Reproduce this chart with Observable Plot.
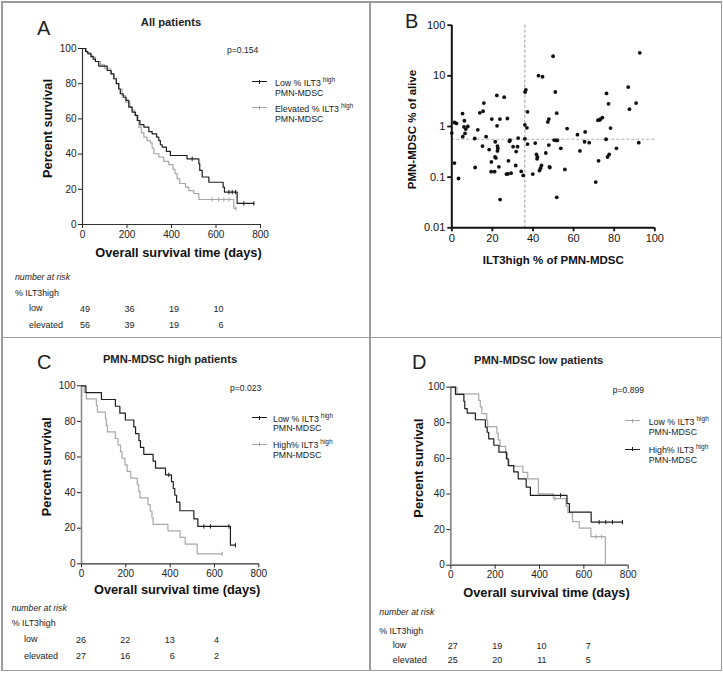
<!DOCTYPE html>
<html><head><meta charset="utf-8">
<script src="https://cdn.jsdelivr.net/npm/d3@7"></script>
<script src="https://cdn.jsdelivr.net/npm/@observablehq/plot@0.6"></script>
<style>
body{margin:0;background:#fff;}
#root{position:relative;width:723px;height:673px;font-family:"Liberation Sans",Arial,Helvetica,sans-serif;color:#222;overflow:hidden;background:#fff;}
.abs{position:absolute;white-space:nowrap;line-height:1;transform:translateY(-50%);}
.sup{font-size:6.5px;position:relative;top:-4px;margin-left:2px;}
.line{position:absolute;background:#9c9c9c;}
</style></head><body><div id="root"></div>
<script>
// ---------- data ----------
const kmTicksX = [0, 200, 400, 600, 800];
const kmTicksY = [0, 20, 40, 60, 80, 100];
const riskTimes = [0, 200, 400, 600];

// Panel A: all patients
const aLowT = [0,14,24,39,48,58,73,111,129,141,152,163,170,183,196,208,223,238,248,258,276,298,313,333,343,350,358,377,395,470,523,527,538,568,632,638,695,770];
const aLowS = [100,98.3,97,95.5,94,92.6,90,87.5,85.6,82.8,80,77,74.3,72.3,70.5,66.7,63.8,62,59.1,56.8,55.3,52.8,51.5,49.6,47.7,45.3,44,41.5,39.2,37.3,34.5,30.7,27,24,21.2,18.4,12,12];
const aLowCens = [493,658,673,688,725,770];
const aElevT = [0,18,36,58,81,100,126,141,152,163,178,193,213,223,234,243,253,264,276,290,305,313,321,343,365,388,407,416,425,437,463,478,500,523,680,690];
const aElevS = [100,97.7,95.1,92.6,90.7,88.5,85.6,82.8,80,77,73.3,69.5,66.7,64.8,62,59.1,55.3,52.1,49.6,47.7,46.4,43.4,40.2,38.3,35.9,34,31.3,28.9,26.1,23.3,21.2,19.3,17.6,14.2,9.2,9.2];
const aElevCens = [583,612,635,658,690];
const aRiskLow = [49, 36, 19, 10];
const aRiskElev = [56, 39, 19, 6];

// Panel B: scatter
const bIlt3 = [0,1.3,1.3,2.3,3.3,5.3,5.4,6.0,6.2,6.5,6.9,7.9,11.3,11.5,12.8,13.8,15.1,15.4,15.8,16.9,18.4,19.5,19.4,19.7,21.3,21.1,21.4,21.7,22.2,22.3,22.5,22.7,22.5,23.2,23.7,23.8,25.8,26.9,27.6,27.4,27.9,28.4,28.7,29.2,30.2,31.7,31.5,32.4,32.7,34.2,35.2,36.0,36.0,36.1,36.5,37.0,37.3,37.3,39.9,41.1,41.7,42.0,42.2,42.7,43.2,43.7,44.2,44.7,46.3,47.3,47.8,47.8,48.1,48.3,49.9,50.4,51.0,51.4,51.7,51.7,52.0,53.7,55.7,56.8,61.9,63.1,65.4,65.7,67.7,70.9,72.0,72.3,72.9,73.2,74.2,76.0,76.2,76.7,77.2,77.5,78.2,81.1,86.9,87.5,90.8,92.1,92.6];
const bPmn = [0.74,0.19,1.2,1.15,0.094,1.8,0.63,0.98,1.3,0.73,0.89,1.0,0.58,0.155,0.86,1.86,0.41,2.0,2.9,0.63,0.35,0.2,0.128,1.4,0.25,0.128,0.5,0.24,4.1,1.03,0.41,0.37,0.33,0.16,1.4,0.036,3.8,0.115,0.116,1.44,0.21,0.51,0.54,0.12,0.4,0.32,0.17,0.4,0.59,0.13,0.108,1.08,0.57,4.8,5.3,0.94,1.95,0.45,0.115,0.47,0.28,0.23,0.25,10.1,0.135,0.15,0.17,9.6,0.3,1.23,1.4,0.43,0.16,0.155,24.4,0.54,4.8,0.53,1.83,0.04,0.53,0.37,0.142,0.91,0.69,0.33,0.5,0.78,0.48,0.08,1.33,0.21,1.35,1.4,1.5,0.56,4.5,0.25,2.8,0.28,0.93,0.37,6.0,2.2,2.9,0.48,28.5];
const bCutX = 36;
const bCutY = 0.56;
const bTicksX = [0, 20, 40, 60, 80, 100];
const bTicksY = [0.01, 0.1, 1, 10, 100];

// Panel C: PMN-MDSC high patients
const cLowT = [0,20,90,153,173,198,236,244,259,266,281,323,334,379,406,414,421,429,444,507,525,672,695];
const cLowS = [100,96.2,92.3,88.5,84.6,80.8,76.9,73.1,69.2,65.4,61.5,57.7,53.8,50,46.2,42.3,38.5,34.6,29.8,25.2,21,10.5,10.5];
const cLowCens = [394,552,582,665,695];
const cHighT = [0,12,22,67,72,108,112,117,153,165,176,183,196,206,222,252,258,264,300,310,318,323,390,445,468,522,635];
const cHighS = [100,96.3,92.6,88.9,85.2,81.5,77.8,74.1,70.4,66.7,63,59.3,55.6,51.9,48.1,44.4,40.7,37,33.3,29.6,25.9,22.2,18.5,14.8,11.1,5.6,5.6];
const cHighCens = [635];
const cRiskLow = [26, 22, 13, 4];
const cRiskElev = [27, 16, 6, 2];

// Panel D: PMN-MDSC low patients
const dLowT = [0,28,126,133,140,162,166,208,214,222,247,255,262,325,347,395,463,520,528,549,579,632,697];
const dLowS = [100,96.3,92.6,88.9,85.2,81.5,77.8,74.1,70.4,66.7,63,59.3,55.6,52.2,48.5,40.1,37.4,33,29.5,24.5,20.8,16,0];
const dLowCens = [470,655,680];
const dHighT = [0,21,59,63,74,111,156,164,171,194,217,251,259,284,304,340,359,524,535,633,774];
const dHighS = [100,96,92,88,85.4,81.7,77.5,74.7,71,67.4,63.5,59.8,56,52.4,48.5,43.9,39.2,34.6,29.8,24.2,24.2];
const dHighCens = [495,669,699,729,774];
const dRiskLow = [27, 19, 10, 7];
const dRiskElev = [25, 20, 11, 5];

// ---------- helpers ----------
const FONT = '"Liberation Sans", Arial, Helvetica, sans-serif';
const BLACK = "#1e1e1e", GRAY = "#a8a8a8";
const root = document.getElementById("root");
const vtick = {draw(ctx, size) { const r = Math.sqrt(size / Math.PI); ctx.moveTo(0, -r); ctx.lineTo(0, r); }};

function steps(T, S) { return T.map((t, i) => ({t, s: S[i]})); }
function censors(T, S, C) { return C.map(c => ({t: c, s: S[Math.max(0, d3.bisectRight(T, c) - 1)]})); }

function place(el, left, top) {
  el.style.position = "absolute";
  el.style.left = left + "px";
  el.style.top = top + "px";
  root.appendChild(el);
}

function addText(html, x, y, o = {}) {
  const d = document.createElement("div");
  d.className = "abs";
  d.style.left = x + "px"; d.style.top = y + "px";
  d.style.fontSize = (o.size || 9) + "px";
  if (o.bold) d.style.fontWeight = "bold";
  if (o.italic) d.style.fontStyle = "italic";
  if (o.center) d.style.transform = "translate(-50%,-50%)";
  d.innerHTML = html;
  root.appendChild(d);
}
function swatch(x, y, color) {
  const l = document.createElement("div");
  l.style.cssText = `position:absolute;left:${x}px;top:${y - 0.6}px;width:15px;height:0;border-top:1.2px solid ${color};`;
  const t = document.createElement("div");
  t.style.cssText = `position:absolute;left:${x + 7}px;top:${y - 2}px;width:0;height:4px;border-left:1px solid ${color};`;
  root.appendChild(l); root.appendChild(t);
}
function legendEntry(sx, tx, y, color, name) {
  swatch(sx, y, color);
  addText(`${name}<span class="sup">high</span>`, tx, y + 1, {size: 8.8});
  addText("PMN-MDSC", tx, y + 10.5, {size: 8.8});
}
function line(x, y, w, h) { const d = document.createElement("div"); d.className = "line"; d.style.left = x + "px"; d.style.top = y + "px"; d.style.width = w + "px"; d.style.height = h + "px"; root.appendChild(d); }

function kmPlot(cfg) {
  const marks = [
    Plot.axisX({ticks: kmTicksX, tickSize: 4, tickPadding: 2, label: null, fontSize: 10}),
    Plot.axisY({ticks: kmTicksY, tickSize: 4, tickPadding: 2, label: null, fontSize: 10}),
    Plot.ruleY([0], {stroke: "#333", strokeWidth: 1.2}),
    Plot.ruleX([0], {stroke: cfg.yAxisColor, strokeWidth: cfg.yAxisWidth})
  ];
  for (const c of cfg.curves) {
    marks.push(Plot.line(steps(c.T, c.S), {x: "t", y: "s", curve: "step-after", stroke: c.color, strokeWidth: 1.2}));
    marks.push(Plot.dot(censors(c.T, c.S, c.C), {x: "t", y: "s", symbol: vtick, r: 2.2, stroke: c.color, fill: "none", strokeWidth: 1}));
  }
  for (const row of cfg.risk) {
    marks.push(Plot.text(riskTimes.map((t, i) => ({t, n: row.values[i]})),
      {x: "t", text: "n", frameAnchor: "bottom", lineAnchor: "middle", dy: row.dy, dx: cfg.riskDx, textAnchor: "end", fontSize: 9, fill: "#222"}));
  }
  marks.push(Plot.text(["Overall survival time (days)"], {text: d => d, frameAnchor: "bottom", lineAnchor: "middle", textAnchor: "middle", dy: cfg.xlabDy, dx: 7, fontSize: 12.8, fontWeight: "bold", fill: "#111"}));
  marks.push(Plot.text(["Percent survival"], {text: d => d, frameAnchor: "left", lineAnchor: "middle", textAnchor: "middle", rotate: -90, dx: cfg.ylabDx, dy: -8, fontSize: 12.8, fontWeight: "bold", fill: "#111"}));
  return Plot.plot({
    width: cfg.w, height: cfg.h,
    marginLeft: cfg.fl, marginRight: cfg.w - cfg.fr, marginTop: cfg.ft, marginBottom: cfg.h - cfg.fb,
    x: {domain: [0, 800]}, y: {domain: [0, 100]},
    style: {fontFamily: FONT, fontSize: "10px", background: "transparent", color: "#222", overflow: "visible"},
    marks
  });
}

// ---------- panel A ----------
place(kmPlot({
  w: 369, h: 337, fl: 82, fr: 260, ft: 48, fb: 224,
  yAxisColor: "#333", yAxisWidth: 1.2, xlabDy: 28.5, ylabDx: -35, riskDx: 7.5,
  curves: [
    {T: aElevT, S: aElevS, C: aElevCens, color: GRAY},
    {T: aLowT, S: aLowS, C: aLowCens, color: BLACK}
  ],
  risk: [{values: aRiskLow, dy: 84.3}, {values: aRiskElev, dy: 101}]
}), 0, 0);

// ---------- panel B ----------
const bData = bIlt3.map((x, i) => ({x, y: bPmn[i]}));
place(Plot.plot({
  width: 354, height: 337,
  marginLeft: 82.3, marginRight: 68.7, marginTop: 24.7, marginBottom: 109.7,
  x: {domain: [0, 100]}, y: {type: "log", domain: [0.01, 100]},
  style: {fontFamily: FONT, fontSize: "11px", background: "transparent", color: "#111", overflow: "visible"},
  marks: [
    Plot.ruleX([bCutX], {stroke: "#9a9a9a", strokeDasharray: "3,2", strokeWidth: 1}),
    Plot.ruleY([bCutY], {stroke: "#b0b0b0", strokeDasharray: "3,2", strokeWidth: 1.2}),
    Plot.axisX({ticks: bTicksX, tickSize: 4, tickPadding: 2, label: null, strokeWidth: 1.8, fontSize: 11}),
    Plot.axisY({ticks: bTicksY, tickSize: 4, tickPadding: 2.5, label: null, tickFormat: d => String(d), strokeWidth: 1.8, fontSize: 11}),
    Plot.ruleX([0], {stroke: "#111", strokeWidth: 2}),
    Plot.ruleY([0.01], {stroke: "#111", strokeWidth: 2}),
    Plot.dot(bData, {x: "x", y: "y", r: 1.9, fill: "#111", stroke: "none"}),
    Plot.text(["ILT3high % of PMN-MDSC"], {text: d => d, frameAnchor: "bottom", lineAnchor: "middle", textAnchor: "middle", dy: 32.7, fontSize: 11.5, fontWeight: "bold", fill: "#111"}),
    Plot.text(["PMN-MDSC % of alive"], {text: d => d, frameAnchor: "left", lineAnchor: "middle", textAnchor: "middle", rotate: -90, dx: -39, dy: 3, fontSize: 11.5, fontWeight: "bold", fill: "#111"})
  ]
}), 369, 0);

// ---------- panel C ----------
place(kmPlot({
  w: 369, h: 336, fl: 81, fr: 258.3, ft: 48.3, fb: 226.3,
  yAxisColor: "#8a8a8a", yAxisWidth: 1.6, xlabDy: 26, ylabDx: -34.3, riskDx: 4.5,
  curves: [
    {T: cHighT, S: cHighS, C: cHighCens, color: GRAY},
    {T: cLowT, S: cLowS, C: cLowCens, color: BLACK}
  ],
  risk: [{values: cRiskLow, dy: 76}, {values: cRiskElev, dy: 92.7}]
}), 0, 337);

// ---------- panel D ----------
place(kmPlot({
  w: 354, h: 336, fl: 81.3, fr: 258.7, ft: 49.7, fb: 227.7,
  yAxisColor: "#8a8a8a", yAxisWidth: 1.8, xlabDy: 27.3, ylabDx: -32.3, riskDx: 7,
  curves: [
    {T: dLowT, S: dLowS, C: dLowCens, color: GRAY},
    {T: dHighT, S: dHighS, C: dHighCens, color: BLACK}
  ],
  risk: [{values: dRiskLow, dy: 80.6}, {values: dRiskElev, dy: 95.3}]
}), 369, 337);

// ---------- annotations ----------
// Panel A
addText("A", 37, 28, {size: 20});
addText("All patients", 171, 22.7, {size: 11.2, bold: true, center: true});
addText("p=0.154", 227, 50, {size: 8.6});
legendEntry(252, 275, 82, BLACK, "Low % ILT3");
legendEntry(252, 275, 108, GRAY, "Elevated % ILT3");
addText("number at risk", 15, 277, {size: 8.7, italic: true});
addText("% ILT3high", 15, 293, {size: 8.8});
addText("low", 29, 308.3, {size: 9});
addText("elevated", 29, 325, {size: 9});

// Panel B
addText("B", 405, 21, {size: 20});

// Panel C
addText("C", 37, 361.5, {size: 20});
addText("PMN-MDSC high patients", 170, 360, {size: 11.2, bold: true, center: true});
addText("p=0.023", 230, 388.3, {size: 8.6});
legendEntry(252, 273, 417.7, BLACK, "Low % ILT3");
legendEntry(252, 273, 444.3, GRAY, "High% ILT3");
addText("number at risk", 11.7, 607.7, {size: 8.7, italic: true});
addText("% ILT3high", 11.7, 622.7, {size: 8.8});
addText("low", 24, 639.3, {size: 9});
addText("elevated", 24, 656, {size: 9});

// Panel D
addText("D", 412, 362, {size: 20});
addText("PMN-MDSC low patients", 538.7, 361, {size: 11.2, bold: true, center: true});
addText("p=0.899", 612.7, 390, {size: 8.6});
legendEntry(625, 648.7, 421, GRAY, "Low % ILT3");
legendEntry(625, 648.7, 449.3, BLACK, "High% ILT3");
addText("number at risk", 379.3, 612, {size: 8.7, italic: true});
addText("% ILT3high", 379.3, 631, {size: 8.8});
addText("low", 392.7, 645.3, {size: 9});
addText("elevated", 392.7, 660, {size: 9});

// ---------- panel borders ----------
line(1, 1, 720, 1.5);
line(1, 669.5, 720, 1.5);
line(1, 1, 1.5, 670);
line(720.5, 1, 1.5, 670);
line(369, 1, 1.5, 670);
line(1, 336.5, 720, 1.5);
</script></body></html>
